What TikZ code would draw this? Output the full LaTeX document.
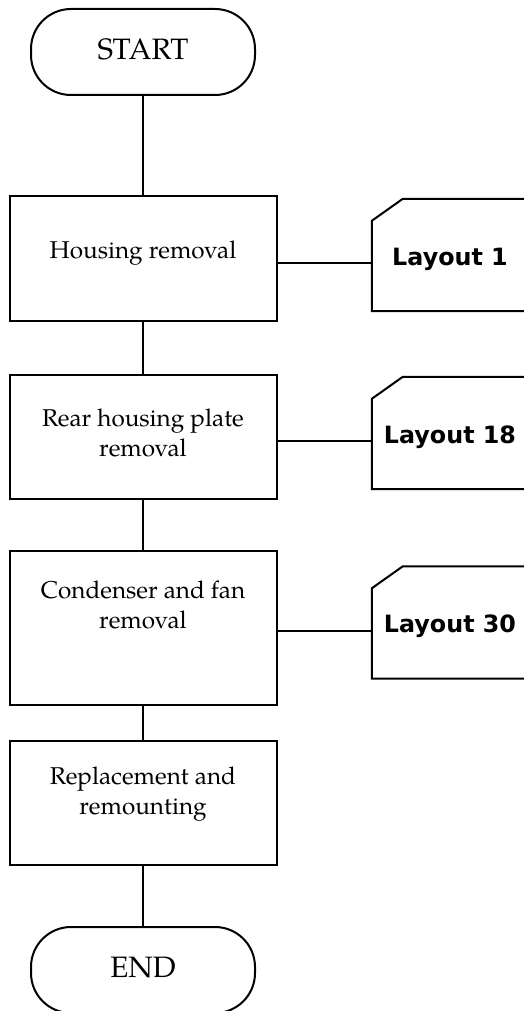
\documentclass[tikz,border=0pt]{standalone}
\usepackage{fontspec}
\setmainfont{texgyrepagella-regular.otf}
\newfontfamily\layoutfont{DejaVu Sans Bold}
\usetikzlibrary{calc}
\begin{document}
\begin{tikzpicture}[x=1pt,y=-1pt,
  conn/.style={line width=2pt},
  terminal/.style={draw, line width=2pt, rounded corners=40pt, minimum width=224pt, minimum height=86pt, text depth=6pt, font=\fontsize{29.5}{34}\selectfont},
  procbox/.style={draw, line width=2pt, minimum width=267pt, inner sep=0pt},
  proctext/.style={align=center, inner sep=0pt, font=\fontsize{24.3}{30}\selectfont},
  layoutbox/.style={minimum width=156pt, minimum height=112pt, text height=20pt, text depth=0pt, inner sep=0pt, font=\layoutfont\fontsize{23.8}{28}\selectfont},
  layoutedge/.style={line width=2pt}
]
\useasboundingbox (0,0) rectangle (524,1011);
\clip (0,0) rectangle (524,1011);

% terminals
\node[terminal] (start) at (143,52) {START};
\node[terminal] (end) at (143,970) {END};

% process boxes
\node[procbox, minimum height=125pt] (b1) at (143,258.5) {};
\node[procbox, minimum height=124pt] (b2) at (143,437) {};
\node[procbox, minimum height=154pt] (b3) at (143,628) {};
\node[procbox, minimum height=124pt] (b4) at (143,803) {};

\node[proctext] (t1) at (143,253.5) {Housing removal};
\node[proctext] (t2) at (143,433) {Rear housing plate\\removal};
\node[proctext] (t3) at (143,605) {Condenser and fan\\removal};
\node[proctext] (t4) at (143,794) {Replacement and\\remounting};

% layout references
\node[layoutbox] (L1) at (450,255) {Layout 1};
\node[layoutbox] (L18) at (450,433) {Layout 18};
\node[layoutbox] (L30) at (450,622.5) {Layout 30};

\foreach \n in {L1,L18,L30}{
  \draw[layoutedge] (\n.south east) -- (\n.south west) -- ($(\n.north west)+(0,22)$) -- ($(\n.north west)+(31,0)$) -- (\n.north east);
}

% vertical flow
\draw[conn] (start.south) -- (b1.north);
\draw[conn] (b1.south) -- (b2.north);
\draw[conn] (b2.south) -- (b3.north);
\draw[conn] (b3.south) -- (b4.north);
\draw[conn] (b4.south) -- (end.north);

% side connectors
\draw[conn] ($(b1.east)+(0,4)$) coordinate (c1) -- (c1 -| L1.west);
\draw[conn] ($(b2.east)+(0,4)$) coordinate (c2) -- (c2 -| L18.west);
\draw[conn] ($(b3.east)+(0,3)$) coordinate (c3) -- (c3 -| L30.west);
\end{tikzpicture}
\end{document}
